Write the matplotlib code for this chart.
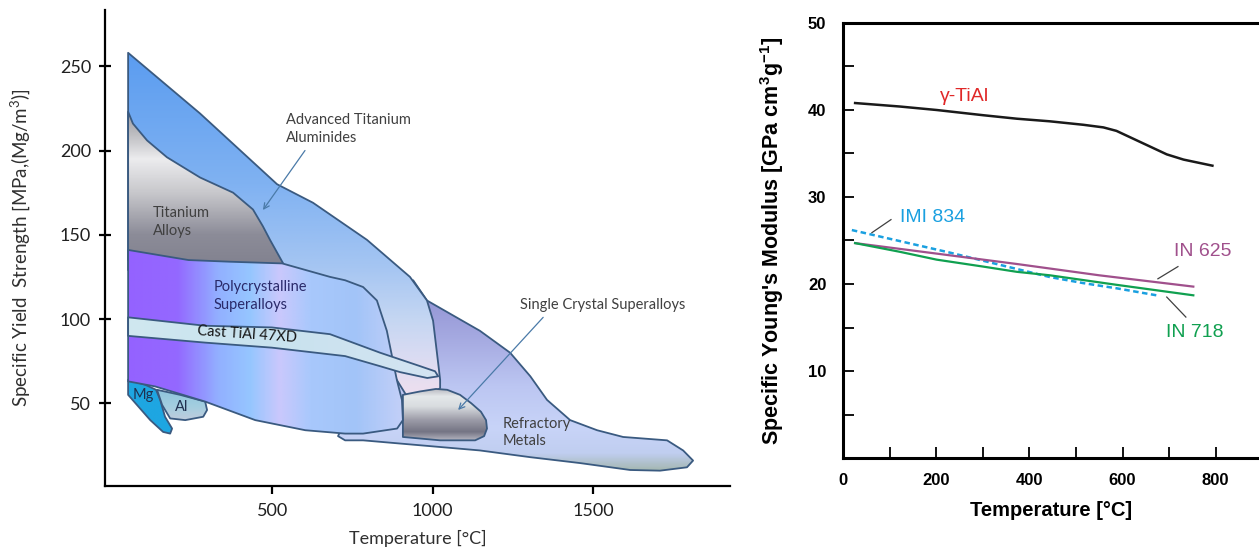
import numpy as np
import matplotlib
matplotlib.use("Agg")
import matplotlib.pyplot as plt
from matplotlib.patches import Polygon
from matplotlib.colors import LinearSegmentedColormap, Normalize

plt.rcParams['mathtext.default'] = 'regular'

# ---- left panel: regions (temperature [C], specific yield strength)
ref_t = [939, 982, 1147, 1241, 1304, 1356, 1428, 1512, 1593, 1730, 1780, 1811, 1792, 1708, 1615, 1459, 1304, 1147, 783, 727, 705, 711, 836, 898]
ref_s = [123, 111, 93, 80, 66, 52, 40, 34, 30, 28, 22, 16, 12, 10, 10.4, 14.5, 18, 22, 28, 28, 30.5, 33, 52, 111]

ata_t = [51, 275, 515, 627, 795, 929, 982, 1001, 1013, 1023, 1023, 998, 920, 868, 805, 51]
ata_s = [258, 222, 180, 169, 147, 125, 111, 99, 80, 64, 59, 55, 54, 70, 111, 135]

sc_t = [907, 960, 1010, 1045, 1085, 1120, 1150, 1166, 1169, 1160, 1132, 1023, 907]
sc_s = [55, 57, 58.5, 58, 55, 50, 45, 40, 35, 30.5, 28, 28, 30]

ti_t = [51, 66, 110, 172, 275, 378, 440, 471, 493, 534, 534, 51]
ti_s = [223, 216, 206, 196, 184, 175, 165, 155, 147, 133, 129, 129]

mg_t = [51, 104, 138, 151, 166, 188, 182, 160, 120, 51]
mg_s = [64, 61, 58, 52, 42, 35, 32, 33, 40, 55]

al_t = [141, 213, 291, 297, 285, 229, 182, 157]
al_s = [58, 55, 51, 46, 42, 40, 41, 49]

poly_t = [51, 239, 369, 531, 680, 727, 783, 826, 857, 888, 904, 907, 889, 783, 727, 603, 447, 291, 135, 51]
poly_s = [141, 135, 134, 133, 125, 123, 119, 111, 93, 64, 52, 40, 35, 32, 32, 34, 40, 51, 60, 63]

cast_t = [51, 291, 499, 680, 836, 961, 1007, 1017, 983, 898, 836, 727, 499, 291, 51]
cast_s = [101, 96, 95, 91, 80, 72, 69, 66, 65, 68.5, 72, 78, 83, 86, 90]

# ---- right panel: specific Young's modulus vs temperature
tial_t = [26, 122, 201, 301, 373, 444, 516, 559, 587, 623, 659, 695, 731, 793]
tial_e = [40.8, 40.4, 40.0, 39.4, 39.0, 38.7, 38.3, 38.0, 37.6, 36.7, 35.8, 34.9, 34.3, 33.6]
imi_t = [19, 230, 444, 516, 588, 673]
imi_e = [26.2, 23.6, 20.8, 20.1, 19.5, 18.7]
in625_t = [26, 200, 373, 550, 752]
in625_e = [24.7, 23.5, 22.3, 21.0, 19.7]
in718_t = [26, 122, 201, 301, 373, 444, 588, 752]
in718_e = [24.7, 23.7, 22.8, 22.0, 21.4, 21.0, 19.9, 18.7]

EDGE = '#3a5a80'
TXT = '#404040'
LFONT = 'Lato'


def region(ax, t, s, stops, cols, horizontal=False, z=1):
    poly = Polygon(np.column_stack([t, s]), closed=True, fc='none', ec=EDGE,
                   lw=1.3, joinstyle='round', zorder=z + 0.5)
    ax.add_patch(poly)
    lo, hi = stops[0], stops[-1]
    cmap = LinearSegmentedColormap.from_list(
        'g', [((v - lo) / (hi - lo), c) for v, c in zip(stops, cols)])
    ramp = np.linspace(lo, hi, 300)
    if horizontal:
        img = ramp[np.newaxis, :]
        ext = [lo, hi, min(s), max(s)]
    else:
        img = ramp[:, np.newaxis]
        ext = [min(t), max(t), lo, hi]
    im = ax.imshow(img, extent=ext, origin='lower', cmap=cmap, norm=Normalize(lo, hi),
                   aspect='auto', interpolation='bilinear', zorder=z)
    im.set_clip_path(poly)


fig = plt.figure(figsize=(12.59, 5.47), dpi=100)

# ================= left
ax = fig.add_axes([105 / 1259, 61 / 547, 625 / 1259, 476 / 547])
region(ax, ref_t, ref_s, [8, 20, 35, 60, 90, 125],
       ['#9fb3a6', '#c0cef0', '#c8d4f8', '#bcc6f2', '#a4a8e0', '#8c8cd0'], z=1)
region(ax, ata_t, ata_s, [50, 75, 100, 130, 180, 260],
       ['#f2e0ee', '#dcdcf2', '#c4d6f2', '#a6c6f2', '#80b2f2', '#5a9cf0'], z=2)
region(ax, sc_t, sc_s, [27, 33, 40, 48, 54, 60],
       ['#c0c0ca', '#747484', '#9c9ca8', '#d8dcdf', '#e4e8ea', '#a8a8b2'], z=3)
region(ax, ti_t, ti_s, [129, 150, 175, 195, 210, 225],
       ['#80808e', '#8c8c98', '#c8c8cc', '#ececee', '#bcbcc0', '#9a9aa0'], z=4)
region(ax, mg_t, mg_s, [30, 65], ['#1ea6e2', '#1ea6e2'], z=5)
region(ax, al_t, al_s, [39, 48, 59], ['#c4ccdc', '#a4cee0', '#8cc4dc'], z=6)
region(ax, poly_t, poly_s, [40, 200, 330, 430, 520, 620, 760, 910],
       ['#9462ff', '#9468ff', '#92b0ff', '#96c6ff', '#cac8fc', '#a8c8fc', '#a2c4f8', '#c4d0f8'],
       horizontal=True, z=7)
region(ax, cast_t, cast_s, [40, 500, 1020], ['#d0e8f0', '#c8e2ee', '#d4e4f2'],
       horizontal=True, z=8)

tk = dict(fontsize=10.5, color=TXT, family=LFONT, zorder=20)
ax.text(543, 212.8, 'Advanced Titanium\nAluminides', ha='left', va='center', linespacing=1.3, **tk)
ax.text(129, 157.5, 'Titanium\nAlloys', ha='left', va='center', linespacing=1.3, **tk)
ax.text(316, 113.6, 'Polycrystalline\nSuperalloys', ha='left', va='center', linespacing=1.3,
        fontsize=10.5, color='#2a2a6a', family=LFONT, zorder=20)
ax.text(422, 91, 'Cast TiAl 47XD', ha='center', va='center', rotation=-4,
        fontsize=10.5, color='#151515', family=LFONT, zorder=20)
ax.text(98, 55, 'Mg', ha='center', va='center', fontsize=10.5, color='#203050', family=LFONT, zorder=20)
ax.text(219, 48, 'Al', ha='center', va='center', fontsize=10.5, color='#203050', family=LFONT, zorder=20)
ax.text(1219, 32.6, 'Refractory\nMetals', ha='left', va='center', linespacing=1.3, **tk)
ax.text(1272, 108.3, 'Single Crystal Superalloys', ha='left', va='center', **tk)

arr = dict(arrowstyle='->', color='#4a7aa8', lw=0.9, shrinkA=0, shrinkB=0)
ax.annotate('', xy=(471, 164.7), xytext=(602, 200), arrowprops=arr, zorder=20)
ax.annotate('', xy=(1079, 46), xytext=(1344, 101), arrowprops=arr, zorder=20)

ax.set_xlim(-21, 1926)
ax.set_ylim(0.9, 283.4)
ax.set_xticks([500, 1000, 1500])
ax.set_yticks([50, 100, 150, 200, 250])
for sp in ['top', 'right']:
    ax.spines[sp].set_visible(False)
for sp in ['left', 'bottom']:
    ax.spines[sp].set_linewidth(1.6)
ax.tick_params(axis='x', direction='out', length=6, width=1.6, pad=6)
ax.tick_params(axis='y', direction='inout', length=8, width=1.6, pad=6)
for lab in ax.get_xticklabels() + ax.get_yticklabels():
    lab.set_family(LFONT)
    lab.set_fontsize(13)
    lab.set_color('#202020')
ax.set_xlabel('Temperature [°C]', family=LFONT, fontsize=13, color='#303030', labelpad=8)
ax.set_ylabel('Specific Yield  Strength [MPa,(Mg/m$^3$)]', family=LFONT, fontsize=13.5,
              color='#303030', labelpad=20)

# ================= right
bx = fig.add_axes([843 / 1259, 89 / 547, 416 / 1259, 435 / 547])
bx.plot(tial_t, tial_e, color='#1a1a1a', lw=1.8)
bx.plot(imi_t, imi_e, color='#1aa0e0', lw=1.8, dashes=(2.2, 1.4))
bx.plot(in625_t, in625_e, color='#a0508c', lw=1.6)
bx.plot(in718_t, in718_e, color='#10a050', lw=1.6)

lf = dict(family='Liberation Sans', fontsize=14, ha='center', va='center')
bx.text(260, 41.5, 'γ-TiAl', color='#e02828', **lf)
bx.text(193, 27.6, 'IMI 834', color='#1aa0e0', **lf)
bx.text(772, 23.7, 'IN 625', color='#a0508c', **lf)
bx.text(755, 14.4, 'IN 718', color='#10a050', **lf)
ld = dict(color='#404040', lw=0.9)
bx.plot([103, 62], [27.4, 25.9], **ld)
bx.plot([719, 676], [22.0, 20.6], **ld)
bx.plot([695, 736], [18.5, 16.2], **ld)

bx.set_xlim(0, 893)
bx.set_ylim(0, 50)
bx.set_xticks([0, 200, 400, 600, 800])
bx.set_xticks([100, 300, 500, 700], minor=True)
bx.set_yticks([10, 20, 30, 40, 50])
bx.set_yticks([5, 15, 25, 35, 45], minor=True)
bx.spines['right'].set_visible(False)
for sp in ['left', 'bottom', 'top']:
    bx.spines[sp].set_linewidth(2.2)
bx.tick_params(which='both', direction='in', length=8, width=1.3)
bx.tick_params(axis='x', pad=11)
bx.tick_params(axis='y', pad=12)
for lab in bx.get_xticklabels() + bx.get_yticklabels():
    lab.set_family('Liberation Sans')
    lab.set_fontweight('bold')
    lab.set_fontsize(12)
bx.set_xlabel('Temperature [°C]', family='Liberation Sans', fontweight='bold', fontsize=14.5, labelpad=9)
bx.set_ylabel("Specific Young's Modulus [GPa cm$^{3}$g$^{-1}$]", family='Liberation Sans',
              fontweight='bold', fontsize=15.5, labelpad=16)

fig.savefig('out.png', dpi=100)
